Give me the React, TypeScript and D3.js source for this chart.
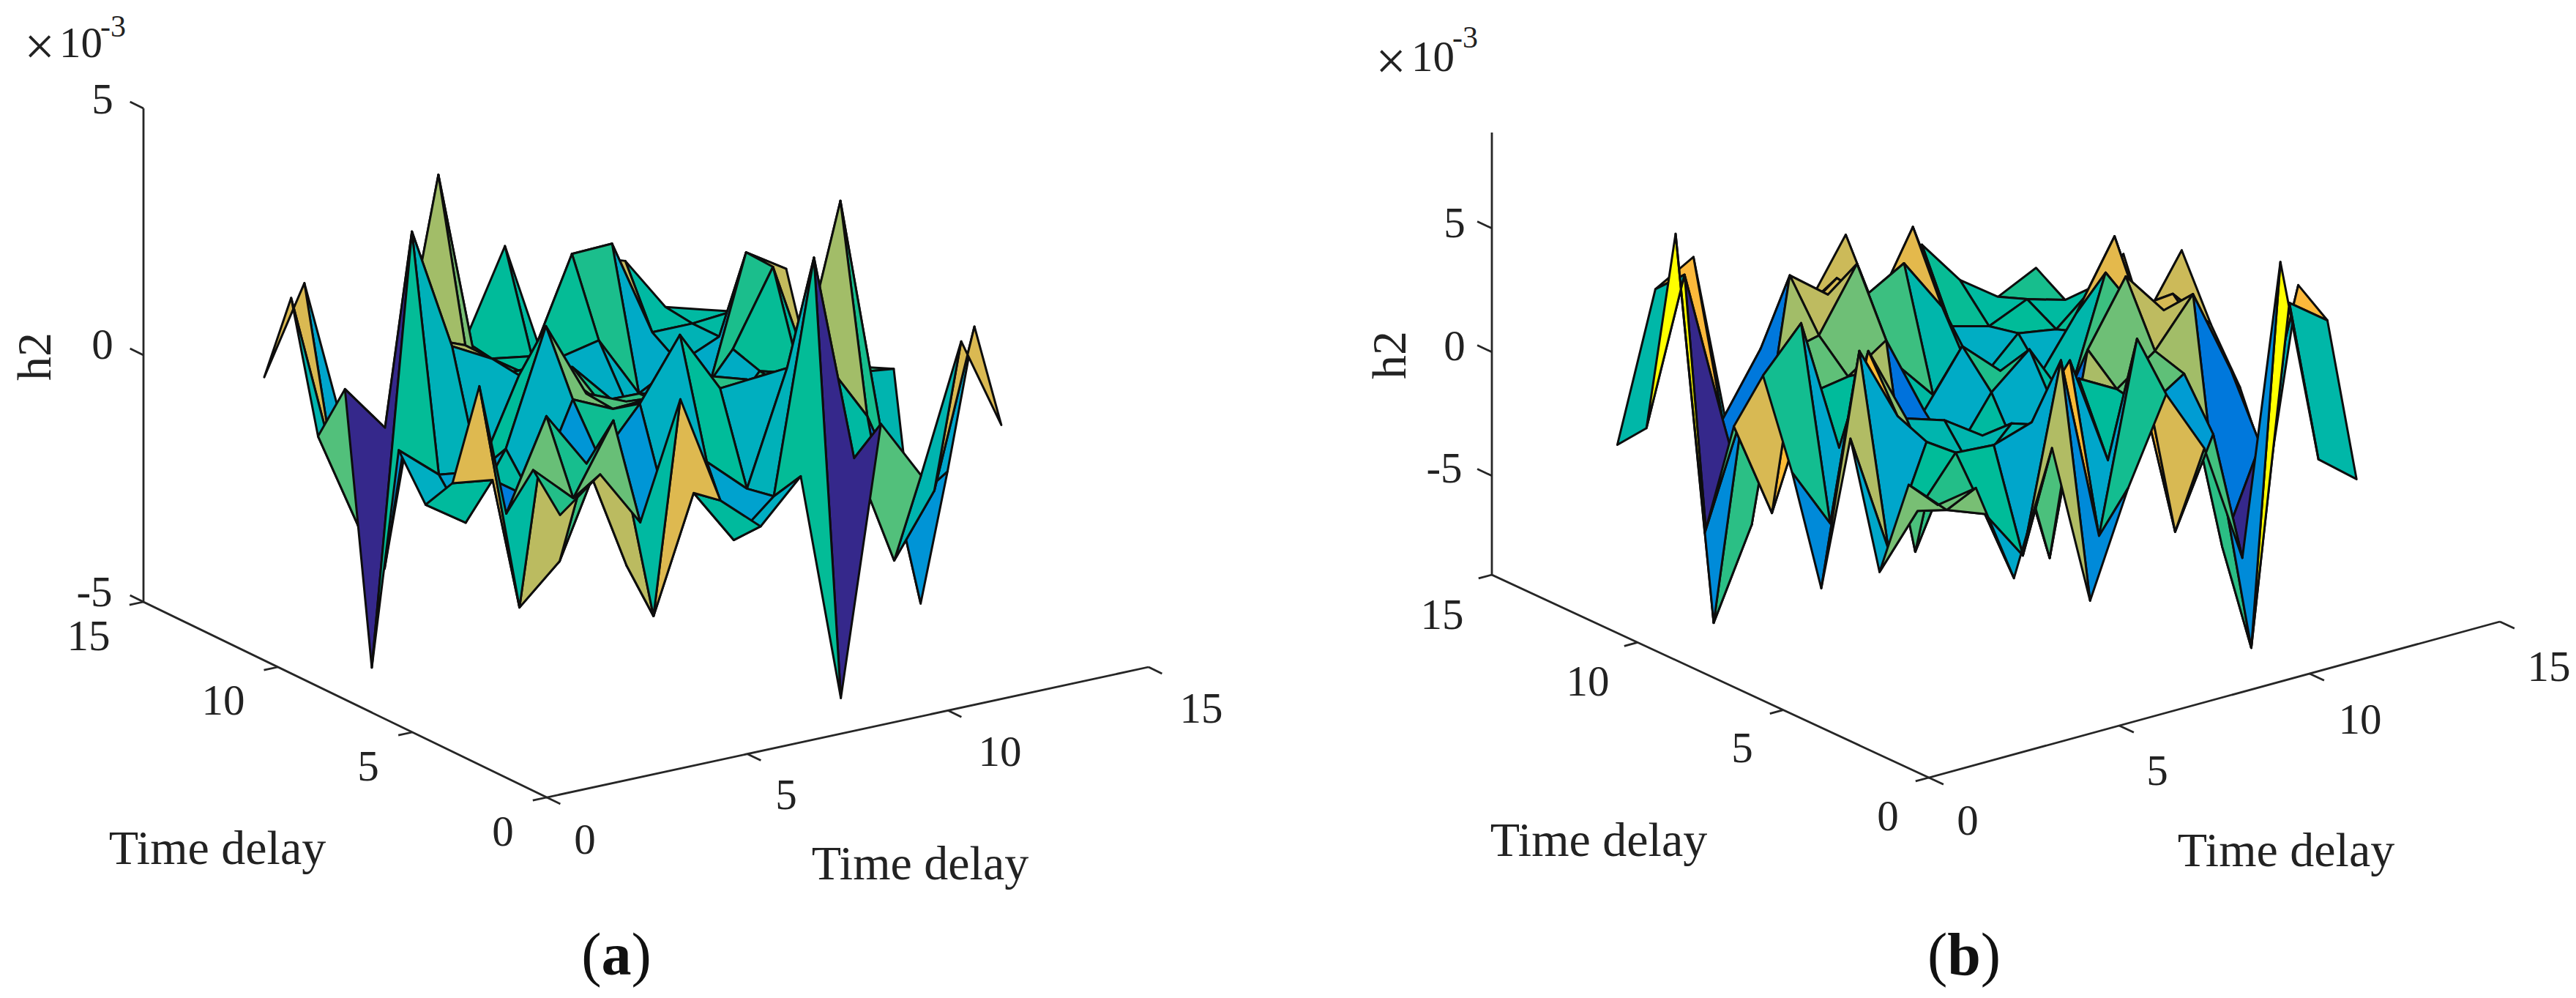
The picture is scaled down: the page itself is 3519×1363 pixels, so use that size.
import React from "react";
import * as d3 from "d3";

// grid positions of the surface, both directions
const gridIndex = [1, 2, 3, 4, 5, 6, 7, 8, 9, 10, 11, 12];

// h2 in units of 1e-3, upper triangle only (the matrix is symmetric)
const h2a = [
  [0.28, 0.93, -0.22, 2.1, -0.13, -0.83, 0.01, -4.66, 0.72, -0.5, 2.04, 0.17],
  [0.18, 1.58, -2.56, -0.24, -1.37, -0.66, 4.0, -0.24, -2.49, -1.25, 1.9],
  [0.44, -1.8, -0.8, -0.05, -0.77, 1.5, 1.4, 0.17, -1.85, -1.3],
  [0.1, 1.04, 2.26, 1.0, 1.07, 1.08, 4.27, -0.5, -4.24],
  [0.67, 0.72, 0.9, 0.32, -0.1, 0, 0.35, 0.25],
  [0.38, 0.12, 0.55, 0.3, -0.05, -0.07, 0.02],
  [0.1, -0.3, -0.9, 0.03, -0.2, 1.77],
  [-0.4, -0.77, 0.21, 1.7, -0.8],
  [-0.8, -1.04, 1.73, 1.22],
  [-0.6, -0.24, 0.94],
  [-0.24, -0.17],
  [-0.4],
];

const h2b = [
  [1.05, 1.32, -2.75, 2.09, -4.5, -0.37, 3.0, 0.4, -4.45, 7.09, -1.31, -2.53],
  [-0.12, -0.7, -2.8, 4.67, -2.85, 4.7, -3.52, 0, -9.05, 4.47, 3.34],
  [1.23, 1.12, 1.62, 3.7, -0.76, 0.9, 1.9, -5.5, -1.8, 4.22],
  [-2, -1.5, 0.55, 2, 1.15, 2.27, 4.15, 0.64, -4],
  [-1.5, 0.06, -5.8, 2.2, 4.74, 2.95, 1.5, -1],
  [-0.98, -2.4, -1.07, 0.3, 2.5, 2.65, 1],
  [-0.2, 1.12, -1.4, 3.38, 1, 3.44],
  [-0.3, -1, 1.2, 3.88, -1],
  [-1.5, -2.2, -0.55, 2.2],
  [-0.71, -0.97, 0.35],
  [-0.3, -0.75],
  [0],
];

const floorTicks = [0, 5, 10, 15];
const h2Ticks = [-5, 0, 5];

// parula as it looks in the figure
const parulaStops = [0, 0.08, 0.15, 0.25, 0.33, 0.38, 0.43, 0.48, 0.52, 0.56, 0.6, 0.65, 0.7, 0.76, 0.84, 0.92, 1];
const parulaColors = [
  "#35288b", "#2a3fbd", "#0064dc", "#0080dc", "#0099d5", "#00a5cc", "#00aec2", "#00b7a8", "#00bc98",
  "#2abf85", "#50c07b", "#7fbf73", "#bdbb60", "#e0b94f", "#fdb93a", "#ffd020", "#ffff00",
];

const serif = "'Liberation Serif', serif";

const panels = [
  {
    rows: h2a,
    origin: [747, 1089], xEnd: [1569, 911], yEnd: [196, 822],
    zRange: [-5, 5], zPx: [822, 148],
    zLabels: [[129, 808, "-5"], [140, 470, "0"], [140, 135, "5"]],
    xLabels: [[799, 1146], [1074, 1085], [1366, 1026], [1641, 967]],
    yLabels: [[687, 1135], [503, 1046], [305, 956], [121, 868]],
    xTitle: [1257, 1178], yTitle: [297, 1157], zTitle: [46, 487],
    exp: [54, 63, 81, 78, 137, 50], caption: [842, 1303], tag: "a",
  },
  {
    rows: h2b,
    origin: [2635, 1062], xEnd: [3415, 849], yEnd: [2038, 785],
    zRange: [-9, 8.87], zPx: [785, 181],
    zLabels: [[1973, 639, "-5"], [1987, 472, "0"], [1987, 304, "5"]],
    xLabels: [[2688, 1120], [2947, 1052], [3224, 982], [3482, 910]],
    yLabels: [[2579, 1114], [2380, 1021], [2169, 930], [1970, 839]],
    xTitle: [3123, 1160], yTitle: [2184, 1146], zTitle: [1897, 485],
    exp: [1900, 83, 1928, 97, 1984, 65], caption: [2683, 1303], tag: "b",
  },
];

// full symmetric matrix from the upper triangle
function expand(rows: number[][]) {
  return gridIndex.map((_, i) =>
    gridIndex.map((_, j) => (j >= i ? rows[i][j - i] : rows[j][i - j]))
  );
}

function Surface({ p }: { p: (typeof panels)[number] }) {
  const z = expand(p.rows);
  const [zMin, zMax] = d3.extent(z.flat()) as [number, number];

  const norm = d3.scaleLinear().domain([zMin, zMax]).range([0, 1]);
  const parula = d3.scaleLinear<string>().domain(parulaStops).range(parulaColors).interpolate(d3.interpolateRgb);

  // oblique axes: each data direction maps to a screen vector
  const xX = d3.scaleLinear().domain([0, 15]).range([0, p.xEnd[0] - p.origin[0]]);
  const xY = d3.scaleLinear().domain([0, 15]).range([0, p.xEnd[1] - p.origin[1]]);
  const yX = d3.scaleLinear().domain([0, 15]).range([0, p.yEnd[0] - p.origin[0]]);
  const yY = d3.scaleLinear().domain([0, 15]).range([0, p.yEnd[1] - p.origin[1]]);
  const zY = d3.scaleLinear().domain(p.zRange).range([0, p.zPx[1] - p.zPx[0]]);

  const project = (x: number, y: number, h: number): [number, number] => [
    p.origin[0] + xX(x) + yX(y),
    p.origin[1] + xY(x) + yY(y) + zY(h),
  ];
  const line = d3.line();

  // back to front, so nearer facets paint over farther ones
  const cells: [number, number][] = [];
  for (let i = gridIndex.length - 2; i >= 0; i--) {
    for (let j = gridIndex.length - 2; j >= 0; j--) cells.push([i, j]);
  }

  const axisStyle = { stroke: "#262626", strokeWidth: 2.8, fill: "none" };
  const textStyle = { fontFamily: serif, fill: "#222" };
  const floor = p.zRange[0];

  return (
    <g>
      <path d={line([project(0, 15, p.zRange[1]), project(0, 15, floor), project(0, 0, floor), project(15, 0, floor)]) as string} {...axisStyle} />
      {floorTicks.map((t) => (
        <g key={t}>
          <path d={line([project(t, 0, floor), project(t, -0.5, floor)]) as string} {...axisStyle} />
          <path d={line([project(0, t, floor), project(-0.35, t, floor)]) as string} {...axisStyle} />
        </g>
      ))}
      {h2Ticks.map((t) => (
        <path key={t} d={line([project(0, 15, t), project(0, 15.5, t)]) as string} {...axisStyle} />
      ))}

      {cells.map(([i, j]) => {
        const corners: [number, number][] = [
          project(gridIndex[i], gridIndex[j], z[i][j]),
          project(gridIndex[i + 1], gridIndex[j], z[i + 1][j]),
          project(gridIndex[i + 1], gridIndex[j + 1], z[i + 1][j + 1]),
          project(gridIndex[i], gridIndex[j + 1], z[i][j + 1]),
        ];
        return (
          <path
            key={i + "-" + j}
            d={(line(corners) as string) + "Z"}
            fill={parula(norm(z[i][j]))}
            stroke="#0d0d0d"
            strokeWidth={3}
            strokeLinejoin="round"
          />
        );
      })}

      {p.zLabels.map((d) => (
        <text key={"z" + d[2]} x={d[0] as number} y={d[1] as number} fontSize={59} textAnchor="middle" dominantBaseline="central" {...textStyle}>{d[2]}</text>
      ))}
      {floorTicks.map((t, k) => (
        <g key={"t" + t}>
          <text x={p.xLabels[k][0]} y={p.xLabels[k][1]} fontSize={59} textAnchor="middle" dominantBaseline="central" {...textStyle}>{t}</text>
          <text x={p.yLabels[k][0]} y={p.yLabels[k][1]} fontSize={59} textAnchor="middle" dominantBaseline="central" {...textStyle}>{t}</text>
        </g>
      ))}
      <text x={p.xTitle[0]} y={p.xTitle[1]} fontSize={66} textAnchor="middle" dominantBaseline="central" {...textStyle}>Time delay</text>
      <text x={p.yTitle[0]} y={p.yTitle[1]} fontSize={66} textAnchor="middle" dominantBaseline="central" {...textStyle}>Time delay</text>
      <text
        transform={`translate(${p.zTitle[0]},${p.zTitle[1]}) rotate(-90)`}
        fontSize={66}
        textAnchor="middle"
        dominantBaseline="central"
        {...textStyle}
      >h2</text>
      <text x={p.exp[0]} y={p.exp[1]} fontSize={74} textAnchor="middle" dominantBaseline="central" {...textStyle}>×</text>
      <text x={p.exp[2]} y={p.exp[3]} fontSize={59} {...textStyle}>10</text>
      <text x={p.exp[4]} y={p.exp[5]} fontSize={42} {...textStyle}>-3</text>
      <text x={p.caption[0]} y={p.caption[1]} fontSize={82} textAnchor="middle" dominantBaseline="central" fontFamily={serif} fill="#111">
        (<tspan fontWeight="bold">{p.tag}</tspan>)
      </text>
    </g>
  );
}

export default function App() {
  return (
    <svg width={3519} height={1363} style={{ position: "absolute", left: 0, top: 0, background: "#fff" }}>
      {panels.map((p) => (
        <Surface key={p.tag} p={p} />
      ))}
    </svg>
  );
}
